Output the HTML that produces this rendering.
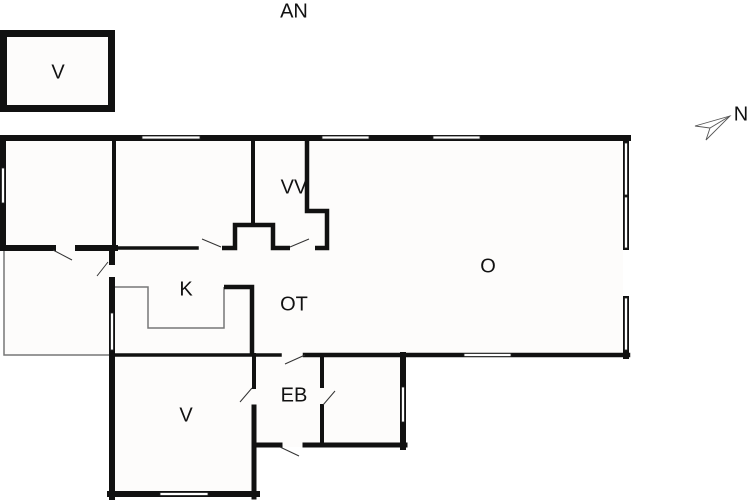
<!DOCTYPE html>
<html><head><meta charset="utf-8"><style>
html,body{margin:0;padding:0;background:#fff;}
svg{display:block}
text{font-family:"Liberation Sans",sans-serif;font-size:20px;fill:#111;text-anchor:middle;dominant-baseline:middle}
</style></head><body>
<svg width="750" height="500" viewBox="0 0 750 500" xmlns="http://www.w3.org/2000/svg">
<rect width="750" height="500" fill="#fff"/>
<g fill="#fdfcfb">
<rect x="4" y="138" width="624" height="218"/>
<rect x="112" y="355" width="293" height="92"/>
<rect x="112" y="355" width="143" height="142"/>
<rect x="3" y="33" width="109" height="76"/>
</g>
<g stroke="#777" stroke-width="1.5" fill="none">
<polyline points="4,250 4,355 112,355"/>
<polyline points="115,287 148,287 148,328 224,328 224,287"/>
</g>
<g stroke="#111" fill="none" stroke-linecap="square">
<rect x="3.5" y="33.5" width="108" height="75" stroke-width="7"/>
<line x1="3" y1="138" x2="628" y2="138" stroke-width="6"/>
<line x1="3" y1="138" x2="3" y2="248" stroke-width="6"/>
<line x1="626" y1="138" x2="626" y2="356" stroke-width="6"/>
<line x1="3" y1="248" x2="53" y2="248" stroke-width="6"/>
<line x1="78" y1="248" x2="115" y2="248" stroke-width="6"/>
<line x1="115" y1="248" x2="197" y2="248" stroke-width="3.5"/>
<polyline points="222,248 235,248 235,225 273,225 273,248 290,248" stroke-width="4.5" stroke-linecap="butt"/>
<polyline points="315,248 327,248 327,211 307,211 307,138" stroke-width="4.5" stroke-linecap="butt"/>
<line x1="253" y1="138" x2="253" y2="225" stroke-width="4"/>
<line x1="114" y1="138" x2="114" y2="248" stroke-width="4"/>
<line x1="112" y1="248" x2="112" y2="262" stroke-width="6"/>
<line x1="112" y1="280" x2="112" y2="497" stroke-width="6"/>
<polyline points="224,287 252,287 252,355" stroke-width="4.5" stroke-linecap="butt"/>
<line x1="112" y1="355" x2="280" y2="355" stroke-width="3.5"/>
<line x1="305" y1="355" x2="628" y2="355" stroke-width="4.5"/>
<line x1="254" y1="355" x2="254" y2="387" stroke-width="4"/>
<line x1="254" y1="407" x2="254" y2="497" stroke-width="5"/>
<line x1="322" y1="355" x2="322" y2="386" stroke-width="4"/>
<line x1="322" y1="406" x2="322" y2="445" stroke-width="4"/>
<line x1="403" y1="355" x2="403" y2="447" stroke-width="6"/>
<line x1="254" y1="445" x2="280" y2="445" stroke-width="5"/>
<line x1="305" y1="445" x2="405" y2="445" stroke-width="5"/>
<line x1="110" y1="494" x2="257" y2="494" stroke-width="6"/>
</g>
<g fill="#fff" stroke="#222" stroke-width="0.8">
<rect x="142" y="136" width="58" height="3"/>
<rect x="322" y="136" width="47" height="3"/>
<rect x="433" y="136" width="47" height="3"/>
<rect x="1.5" y="168" width="3" height="35"/>
<rect x="624.5" y="143" width="3" height="52"/>
<rect x="624.5" y="197" width="3" height="51"/>
<rect x="624.5" y="298" width="3" height="52"/>
<rect x="464" y="353.5" width="47" height="3"/>
<rect x="110.5" y="313" width="3" height="37"/>
<rect x="401.5" y="387" width="3" height="35"/>
<rect x="160" y="492.5" width="48" height="3"/>
</g>
<rect x="623" y="250" width="7" height="46" fill="#fff"/>
<g stroke="#333" stroke-width="1" fill="none">
<line x1="53" y1="250" x2="72" y2="260"/>
<line x1="108" y1="262" x2="97" y2="276"/>
<line x1="202" y1="239" x2="221" y2="247"/>
<line x1="290" y1="247" x2="309" y2="239"/>
<line x1="285" y1="364" x2="305" y2="355"/>
<line x1="240" y1="402" x2="252" y2="388"/>
<line x1="323" y1="405" x2="335" y2="391"/>
<line x1="280" y1="447" x2="299" y2="456"/>
</g>
<g stroke="#555" stroke-width="0.9" fill="none">
<polygon points="695,126 730,116 706,140 710,128"/>
<line x1="710" y1="128" x2="730" y2="116"/>
</g>
<text x="741" y="115">N</text>
<text x="294" y="12">AN</text>
<text x="58" y="73">V</text>
<text x="294" y="188">VV</text>
<text x="186" y="290">K</text>
<text x="294" y="305">OT</text>
<text x="488" y="267">O</text>
<text x="186" y="416">V</text>
<text x="294" y="396">EB</text>
</svg>
</body></html>
